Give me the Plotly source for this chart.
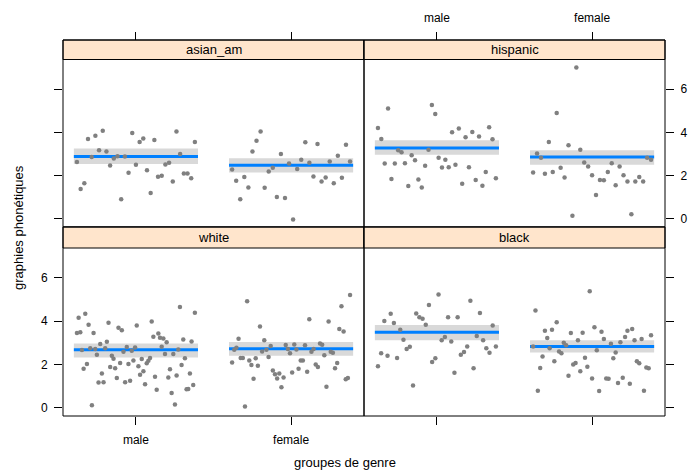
import numpy as np
import plotly.graph_objects as go

# données
groups = ["asian_am", "hispanic", "white", "black"]
genders = ["male", "female"]

asian_am_male = [2.63, 1.38, 1.64, 3.69, 2.86, 3.84, 3.17, 4.07, 3.11, 2.47, 2.79,
                 2.89, 0.90, 2.88, 2.13, 3.97, 2.50, 3.55, 3.72, 2.24, 1.19, 3.64,
                 1.94, 1.99, 2.51, 2.59, 1.72, 4.04, 3.00, 2.10, 2.10, 1.87, 3.55]
asian_am_female = [2.28, 1.76, 0.90, 1.93, 1.45, 3.11, 3.61, 4.04, 1.44, 2.19, 2.36,
                   1.01, 3.00, 0.96, 2.56, -0.03, 2.30, 2.73, 3.54, 2.59, 1.96, 3.46,
                   1.72, 1.91, 2.65, 1.64, 2.92, 1.90, 3.43, 2.65]
hispanic_male = [4.20, 3.69, 2.56, 5.10, 1.84, 2.56, 3.17, 3.08, 2.57, 1.52, 2.94,
                 2.71, 1.82, 1.45, 2.45, 3.20, 5.27, 4.85, 2.82, 2.37, 2.73, 2.39,
                 4.00, 2.50, 4.18, 1.62, 3.77, 2.39, 4.01, 1.79, 3.81, 1.53, 2.16,
                 4.24, 3.68, 1.87]
hispanic_female = [2.14, 3.02, 2.82, 2.08, 3.55, 2.16, 4.89, 2.36, 1.91, 3.40, 0.14,
                   7.00, 3.19, 2.60, 2.42, 2.01, 1.10, 1.79, 1.78, 2.17, 2.57, 1.55,
                   2.42, 2.02, 1.72, 0.21, 1.72, 1.93, 1.72, 2.82, 2.73]
white_male = [3.45, 4.15, 3.48, 2.66, 1.80, 4.34, 2.02, 3.83, 2.74, 0.12, 3.45, 2.71,
              2.45, 1.17, 2.94, 1.58, 1.18, 2.75, 3.05, 3.92, 1.88, 2.40, 2.26, 1.82,
              1.37, 3.69, 2.06, 3.57, 2.58, 1.18, 2.80, 2.02, 1.25, 2.63, 2.18, 2.78,
              3.80, 1.91, 1.52, 2.25, 1.68, 1.08, 2.05, 2.17, 2.29, 3.98, 3.28, 1.43,
              0.83, 3.43, 3.23, 2.82, 3.20, 2.48, 3.02, 1.40, 1.78, 0.68, 2.48, 0.15,
              1.49, 2.69, 4.65, 1.97, 3.15, 2.28, 0.85, 0.86, 1.58, 3.06, 1.05, 4.38]
white_female = [2.09, 2.68, 2.77, 3.18, 2.29, 2.29, 0.06, 4.91, 2.18, 1.97, 1.34,
                2.28, 1.94, 3.75, 2.60, 3.11, 2.68, 2.34, 2.85, 1.72, 1.55, 1.35,
                1.58, 0.95, 1.40, 2.89, 2.71, 2.52, 1.63, 2.92, 2.69, 1.80, 2.18,
                2.18, 2.88, 1.66, 4.08, 2.58, 2.71, 2.00, 1.88, 2.97, 2.91, 2.42,
                0.97, 3.98, 2.58, 2.54, 1.82, 2.06, 3.63, 4.68, 3.52, 1.32, 1.37, 5.20]
black_male = [1.92, 2.52, 4.00, 2.40, 4.34, 3.91, 2.29, 3.60, 3.14, 2.71, 2.82, 1.03,
              4.35, 4.18, 4.11, 3.83, 4.74, 2.11, 2.28, 5.22, 3.12, 3.26, 4.17, 3.06,
              1.62, 4.17, 2.45, 2.57, 2.83, 4.94, 1.82, 3.31, 4.37, 3.12, 2.74, 2.54,
              3.80, 2.83]
black_female = [2.83, 4.49, 0.78, 1.83, 2.37, 3.55, 3.22, 2.74, 3.60, 2.14, 3.95,
                2.60, 2.52, 3.00, 2.88, 1.48, 3.45, 2.00, 2.06, 3.12, 1.68, 3.46,
                2.31, 1.89, 5.38, 1.35, 3.71, 2.65, 0.77, 3.51, 3.17, 1.35, 1.34,
                2.95, 2.28, 2.55, 1.14, 3.02, 1.38, 3.26, 3.55, 1.11, 3.63, 3.12,
                2.14, 2.05, 3.17, 0.78, 1.86, 1.82, 3.35]

mean_male = [2.88, 3.28, 2.68, 3.48]
mean_female = [2.48, 2.86, 2.72, 2.83]
ci_low_male = [2.54, 2.96, 2.32, 3.12]
ci_high_male = [3.25, 3.63, 2.97, 3.82]
ci_low_female = [2.14, 2.50, 2.40, 2.55]
ci_high_female = [2.80, 3.17, 3.03, 3.11]

points = {
    "asian_am": [asian_am_male, asian_am_female],
    "hispanic": [hispanic_male, hispanic_female],
    "white": [white_male, white_female],
    "black": [black_male, black_female],
}

W, H = 690, 472
FONT = "Liberation Sans, Arial, sans-serif"

# géométrie des panneaux (pixels)
xl = [63, 364, 665]
top_strip, top_plot, mid, bot_strip_end, bot = 40, 59.5, 227, 248, 416


def px(x):
    return x / W


def py(y):
    return 1 - y / H


# panneau -> (colonne, ligne)  ligne 0 = haut
layout_pos = {"asian_am": (0, 0), "hispanic": (1, 0), "white": (0, 1), "black": (1, 1)}
axis_id = {"white": 1, "black": 2, "asian_am": 3, "hispanic": 4}

fig = go.Figure()

for gi, g in enumerate(groups):
    k = axis_id[g]
    xa = "x" if k == 1 else f"x{k}"
    ya = "y" if k == 1 else f"y{k}"
    means = [mean_male[gi], mean_female[gi]]
    lows = [ci_low_male[gi], ci_low_female[gi]]
    highs = [ci_high_male[gi], ci_high_female[gi]]
    for j in range(2):
        c = j + 1
        fig.add_trace(go.Scatter(
            x=[c - 0.4, c + 0.4, c + 0.4, c - 0.4, c - 0.4],
            y=[lows[j], lows[j], highs[j], highs[j], lows[j]],
            fill="toself", fillcolor="#d9d9d9", line=dict(width=0),
            mode="lines", xaxis=xa, yaxis=ya, hoverinfo="skip", showlegend=False))
        fig.add_trace(go.Scatter(
            x=[c - 0.4, c + 0.4], y=[means[j], means[j]], mode="lines",
            line=dict(color="#0080ff", width=3),
            xaxis=xa, yaxis=ya, showlegend=False))
    for j in range(2):
        vals = points[g][j]
        xs = (j + 1) + np.linspace(-0.38, 0.38, len(vals))
        fig.add_trace(go.Scatter(
            x=xs, y=vals, mode="markers",
            marker=dict(color="#808080", size=4.5),
            xaxis=xa, yaxis=ya, showlegend=False))

xrange = [0.53, 2.47]
yrange = [-0.38, 7.37]
tick_common = dict(ticks="outside", ticklen=8, tickwidth=1, tickcolor="black",
                   showgrid=False, zeroline=False, showline=False,
                   tickfont=dict(family=FONT, size=12, color="black"))

lay = {}
for g, (col, row) in layout_pos.items():
    k = axis_id[g]
    xname = "xaxis" if k == 1 else f"xaxis{k}"
    yname = "yaxis" if k == 1 else f"yaxis{k}"
    yanchor = "y" if k == 1 else f"y{k}"
    xanchor = "x" if k == 1 else f"x{k}"
    xdom = [px(xl[col]), px(xl[col + 1])]
    if row == 0:
        ydom = [py(mid), py(top_plot)]
        xax = dict(domain=xdom, range=xrange, tickmode="array", tickvals=[1, 2],
                   ticktext=genders, side="top", anchor="free", position=py(top_strip),
                   showticklabels=(col == 1), ticklabelstandoff=5, **tick_common)
    else:
        ydom = [py(bot), py(bot_strip_end)]
        xax = dict(domain=xdom, range=xrange, tickmode="array", tickvals=[1, 2],
                   ticktext=genders, side="bottom", anchor=yanchor,
                   showticklabels=(col == 0), ticklabelstandoff=5, **tick_common)
    yax = dict(domain=ydom, range=yrange, tickmode="array", tickvals=[0, 2, 4, 6],
               side="left" if col == 0 else "right", anchor=xanchor,
               showticklabels=(row == 1 and col == 0) or (row == 0 and col == 1),
               ticklabelstandoff=4, **tick_common)
    lay[xname] = xax
    lay[yname] = yax

shapes = []
annotations = []
for g, (col, row) in layout_pos.items():
    x0, x1 = px(xl[col]), px(xl[col + 1])
    if row == 0:
        s0, s1, b = top_strip, top_plot, mid
    else:
        s0, s1, b = mid, bot_strip_end, bot
    shapes.append(dict(type="rect", xref="paper", yref="paper", x0=x0, x1=x1,
                       y0=py(s1), y1=py(s0), fillcolor="#ffe5cc",
                       line=dict(color="black", width=1)))
    shapes.append(dict(type="rect", xref="paper", yref="paper", x0=x0, x1=x1,
                       y0=py(b), y1=py(s0), line=dict(color="black", width=1)))
    annotations.append(dict(text=g, xref="paper", yref="paper",
                            x=(x0 + x1) / 2, y=py((s0 + s1) / 2),
                            showarrow=False, xanchor="center", yanchor="middle",
                            font=dict(family=FONT, size=13, color="black")))

annotations.append(dict(text="groupes de genre", xref="paper", yref="paper",
                        x=px(345), y=py(462), showarrow=False,
                        xanchor="center", yanchor="middle",
                        font=dict(family=FONT, size=13, color="black")))
annotations.append(dict(text="graphies phonétiques", xref="paper", yref="paper",
                        x=px(18), y=py(228), showarrow=False, textangle=-90,
                        xanchor="center", yanchor="middle",
                        font=dict(family=FONT, size=13, color="black")))

fig.update_layout(
    width=W, height=H, margin=dict(l=0, r=0, t=0, b=0),
    paper_bgcolor="white", plot_bgcolor="white",
    shapes=shapes, annotations=annotations, showlegend=False,
    **lay)

# pas de marge autour de la page, pas de barre d'outils
fig.write_html("out.html", config={"displayModeBar": False},
               post_script="document.body.style.margin='0';")
